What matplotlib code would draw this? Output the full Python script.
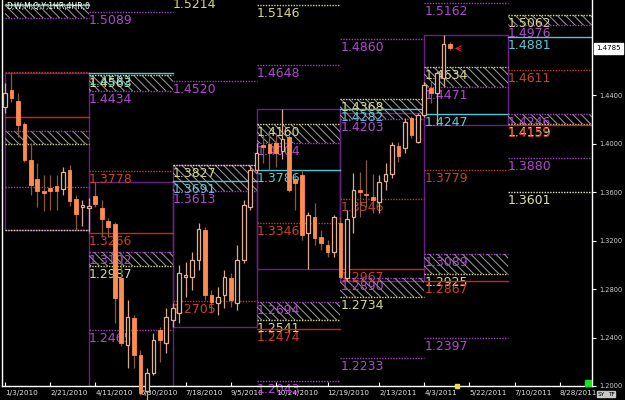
import numpy as np
import pandas as pd
import matplotlib
matplotlib.use("Agg")
import matplotlib.pyplot as plt
import matplotlib.dates as mdates
from matplotlib.patches import Rectangle

# weekly candles, first week starts 1/3/2010
opens = [1.4305, 1.4442, 1.4354, 1.4159, 1.3865, 1.3705, 1.3611, 1.3631, 1.3650, 1.3625,
         1.3782, 1.3540, 1.3480, 1.3470, 1.3568, 1.3466, 1.3361, 1.3337, 1.2891, 1.2338,
         1.2561, 1.2256, 1.1960, 1.2107, 1.2462, 1.2355, 1.2545, 1.2602, 1.2899, 1.2899,
         1.3040, 1.3287, 1.2751, 1.2685, 1.2751, 1.2891, 1.2685, 1.3040, 1.3477, 1.3782,
         1.3988, 1.3997, 1.4005, 1.3940, 1.4054, 1.3708, 1.3741, 1.3262, 1.3394, 1.3229,
         1.3163, 1.3106, 1.3345, 1.2891, 1.3394, 1.3617, 1.3584, 1.3559, 1.3518, 1.3691,
         1.3749, 1.3980, 1.3964, 1.4211, 1.4013, 1.4236, 1.4459, 1.4420, 1.4540, 1.4822]
highs = [1.4500, 1.4582, 1.4420, 1.4180, 1.4005, 1.3842, 1.3741, 1.3741, 1.3741, 1.3804,
         1.3823, 1.3576, 1.3535, 1.3550, 1.3686, 1.3535, 1.3386, 1.3355, 1.3097, 1.2710,
         1.2586, 1.2297, 1.2150, 1.2437, 1.2489, 1.2644, 1.2685, 1.2998, 1.3023, 1.3106,
         1.3345, 1.3312, 1.2792, 1.2817, 1.2957, 1.2932, 1.3163, 1.3535, 1.3823, 1.4005,
         1.4071, 1.4095, 1.4087, 1.4282, 1.4071, 1.3757, 1.3782, 1.3436, 1.3510, 1.3287,
         1.3205, 1.3411, 1.3394, 1.3452, 1.3757, 1.3766, 1.3865, 1.3749, 1.3741, 1.3840,
         1.4013, 1.4013, 1.4211, 1.4228, 1.4249, 1.4508, 1.4520, 1.4600, 1.4896, 1.4840]
lows = [1.4252, 1.4346, 1.4057, 1.3850, 1.3576, 1.3480, 1.3446, 1.3450, 1.3454, 1.3580,
        1.3485, 1.3287, 1.3320, 1.3270, 1.3477, 1.3232, 1.3230, 1.2517, 1.2330, 1.2149,
        1.2149, 1.1926, 1.1876, 1.2091, 1.2200, 1.2272, 1.2487, 1.2520, 1.2734, 1.2792,
        1.2957, 1.2710, 1.2602, 1.2586, 1.2644, 1.2652, 1.2627, 1.3015, 1.3452, 1.3757,
        1.3840, 1.3782, 1.3807, 1.3870, 1.3601, 1.3452, 1.3205, 1.2969, 1.3163, 1.3122,
        1.3065, 1.3065, 1.2891, 1.2867, 1.3262, 1.3394, 1.3477, 1.3427, 1.3427, 1.3617,
        1.3716, 1.3848, 1.3922, 1.4046, 1.4005, 1.4219, 1.4335, 1.4155, 1.4470, 1.4770]
closes = [1.4420, 1.4379, 1.4153, 1.3865, 1.3658, 1.3611, 1.3590, 1.3609, 1.3611, 1.3763,
          1.3529, 1.3419, 1.3490, 1.3485, 1.3502, 1.3375, 1.3314, 1.2723, 1.2355, 1.2572,
          1.2256, 1.1942, 1.2107, 1.2380, 1.2380, 1.2572, 1.2644, 1.2932, 1.2916, 1.3040,
          1.3295, 1.2751, 1.2693, 1.2734, 1.2899, 1.2710, 1.3040, 1.3493, 1.3782, 1.3922,
          1.3972, 1.3922, 1.3922, 1.4040, 1.3617, 1.3675, 1.3246, 1.3411, 1.3221, 1.3180,
          1.3106, 1.3394, 1.2899, 1.3378, 1.3617, 1.3601, 1.3576, 1.3535, 1.3683, 1.3749,
          1.3988, 1.3898, 1.4178, 1.4071, 1.4236, 1.4483, 1.4417, 1.4580, 1.4822, 1.4785]
last_price = 1.4785

# quarterly pivot sections (start dates)
quarter_starts = ["2010-01-03", "2010-04-04", "2010-07-04", "2010-10-03",
                  "2011-01-02", "2011-04-03", "2011-07-03"]
chart_end = "2011-10-02"

# level lines per quarter: (price, kind)
levels = [
    [(1.5150, "yel"), (1.5144, "cyan"), (1.5036, "pur"), (1.4590, "reddot"), (1.4219, "red"),
     (1.4104, "pur"), (1.3997, "yel"), (1.3642, "pur"), (1.3287, "yel")],
    [(1.5089, "pur"), (1.4582, "cyan"), (1.4563, "yel"), (1.4434, "pur"), (1.3778, "reddot"),
     (1.3266, "red"), (1.3102, "pur"), (1.2987, "yel"), (1.2465, "pur")],
    [(1.5214, "yel"), (1.4520, "pur"), (1.3827, "yel"), (1.3691, "cyan"), (1.3613, "pur"),
     (1.2705, "reddot")],
    [(1.5146, "yel"), (1.4648, "pur"), (1.4160, "yel"), (1.4004, "pur"), (1.3786, "cyan"),
     (1.3346, "reddot"), (1.2694, "pur"), (1.2541, "yel"), (1.2474, "red"), (1.2043, "pur")],
    [(1.4860, "pur"), (1.4368, "yel"), (1.4282, "cyan"), (1.4203, "pur"), (1.3546, "reddot"),
     (1.2967, "red"), (1.2890, "pur"), (1.2734, "yel"), (1.2233, "pur")],
    [(1.5162, "pur"), (1.4634, "yel"), (1.4471, "pur"), (1.4247, "cyan"), (1.3779, "reddot"),
     (1.3089, "pur"), (1.2925, "yel"), (1.2867, "red"), (1.2397, "pur")],
    [(1.5062, "yel"), (1.4976, "pur"), (1.4881, "cyan"), (1.4611, "reddot"), (1.4246, "pur"),
     (1.4159, "yel"), (1.4155, "red"), (1.3880, "pur"), (1.3601, "white")],
]
# hatched zones per quarter: (top, bottom)
zones = [
    [(1.5150, 1.5036), (1.4104, 1.3997)],
    [(1.4563, 1.4434), (1.3102, 1.2987)],
    [(1.3827, 1.3613)],
    [(1.4160, 1.4004), (1.2694, 1.2541)],
    [(1.4368, 1.4203), (1.2890, 1.2734)],
    [(1.4634, 1.4471), (1.3089, 1.2925)],
    [(1.5062, 1.4976), (1.4246, 1.4159)],
]

tick_dates = ["2010-01-03", "2010-02-21", "2010-04-11", "2010-05-30", "2010-07-18",
              "2010-09-05", "2010-10-24", "2010-12-19", "2011-02-13", "2011-04-03",
              "2011-05-22", "2011-07-10", "2011-08-28"]
price_ticks = [1.20, 1.24, 1.28, 1.32, 1.36, 1.40, 1.44]

line_col = {"yel": "#d6d68a", "pur": "#a83cc8", "cyan": "#4cc8d8", "reddot": "#c83a28",
            "red": "#d82020", "white": "#e8e8c8"}
text_col = {"yel": "#d8d888", "pur": "#b048d0", "cyan": "#5ccad8", "reddot": "#c8402c",
            "red": "#c8402c", "white": "#e0e0a8"}

plt.rcParams["hatch.linewidth"] = 0.7
plt.rcParams["hatch.color"] = "#a0a0a0"

fig = plt.figure(figsize=(6.25, 4), dpi=100, facecolor="black")
ax = fig.add_axes([2 / 625, 14 / 400, 590 / 625, 386 / 400])
ax.set_facecolor("black")

dates = pd.date_range("2010-01-03", periods=len(opens), freq="7D")
x = mdates.date2num(dates)
q = mdates.date2num(pd.to_datetime(quarter_starts))
q_end = list(q[1:]) + [mdates.date2num(pd.Timestamp(chart_end))]

# quarter ranges (purple boxes) from the candles
for i in range(6):
    m = (x >= q[i]) & (x < q_end[i])
    hi = max(np.array(highs)[m])
    lo = min(np.array(lows)[m])
    ax.add_patch(Rectangle((q[i], lo), q_end[i] - q[i], hi - lo, fill=False,
                           edgecolor="#6a2088", lw=1, zorder=1))

for i in range(7):
    x0, x1 = q[i], q_end[i]
    for top, bot in zones[i]:
        ax.add_patch(Rectangle((x0, bot), x1 - x0, top - bot, facecolor="none",
                               edgecolor="#a0a0a0", hatch="\\" * 4, lw=0, zorder=1))
    for val, kind in levels[i]:
        ls = "-" if kind in ("red", "cyan") else (0, (1, 1))
        ax.plot([x0, x1], [val, val], color=line_col[kind], lw=1, ls=ls, zorder=2)
        if i > 0:
            ax.annotate(f"{val:.4f}", (x0, val), xytext=(0, -2), textcoords="offset pixels",
                        ha="left", va="top", fontsize=9, color=text_col[kind], zorder=2,
                        annotation_clip=False)

# candles
o = np.array(opens); c = np.array(closes)
up = c >= o
ax.vlines(x[up], np.array(lows)[up], np.array(highs)[up], color="#d8a890", lw=0.9, zorder=3,
          clip_on=False)
ax.vlines(x[~up], np.array(lows)[~up], np.array(highs)[~up], color="#8a5a40", lw=0.9, zorder=3,
          clip_on=False)
ax.bar(x[up], (c - o)[up], bottom=o[up], width=4, facecolor="black", edgecolor="#e0b098",
       lw=0.9, zorder=4, clip_on=False)
ax.bar(x[~up], (o - c)[~up], bottom=c[~up], width=4, facecolor="#ff8c4c", edgecolor="#ff8c4c",
       lw=0.6, zorder=4, clip_on=False)

# marker arrow at the last candle
ax.annotate("", xy=(x[-1] + 2, last_price), xytext=(x[-1] + 14, last_price),
            arrowprops=dict(arrowstyle="->", color="#d02020", lw=0.8), zorder=5)

ax.set_xlim(x[0] - 3.3, q_end[-1])
ax.set_ylim(1.2, 1.5185)

for s in ["left", "right", "bottom"]:
    ax.spines[s].set_color("white")
    ax.spines[s].set_linewidth(1)
ax.spines["top"].set_visible(False)

td = pd.to_datetime(tick_dates)
ax.set_xticks(mdates.date2num(td))
ax.set_xticklabels([f"{d.month}/{d.day}/{d.year}" for d in td], fontsize=5.2, color="#e0e0e0",
                   ha="left")
ax.tick_params(axis="x", direction="in", length=3, color="white", pad=3)

ax.yaxis.tick_right()
ax.set_yticks(price_ticks)
ax.set_yticklabels([f"{p:.4f}" for p in price_ticks], fontsize=4.8, color="#d0d0d0")
ax.tick_params(axis="y", direction="out", length=3, color="white", pad=2)

ax.annotate(f"{last_price:.4f}", (1, last_price), xycoords=("axes fraction", "data"),
            xytext=(4, 0), textcoords="offset pixels", ha="left", va="center", fontsize=5,
            color="black", bbox=dict(boxstyle="square,pad=0.3", fc="white", ec="white"),
            annotation_clip=False)

fig.text(6 / 625, 1 - 6 / 400, "D,W,M,Q,Y,1HR,4HR,0", color="white", fontsize=5.5,
         va="center", ha="left")
fig.text(598 / 625, 6 / 400, "SY", fontsize=4.2, color="black", va="center", ha="left",
         bbox=dict(boxstyle="square,pad=0.1", fc="#c8c8c8", ec="#c8c8c8"))
fig.text(608 / 625, 6 / 400, "TF", fontsize=4.2, color="black", va="center", ha="left",
         bbox=dict(boxstyle="square,pad=0.1", fc="#c8c8c8", ec="#c8c8c8"))
ax.plot([1 - 0.006], [1.2024], marker="s", ms=5, color="#22e022", transform=ax.get_yaxis_transform(),
        clip_on=False, zorder=6)
ax.plot([mdates.date2num(pd.Timestamp("2011-05-08"))], [1.2], marker="s", ms=2.5, color="#f0e040",
        clip_on=False, zorder=6)

fig.savefig("out.png", dpi=100, facecolor="black")
